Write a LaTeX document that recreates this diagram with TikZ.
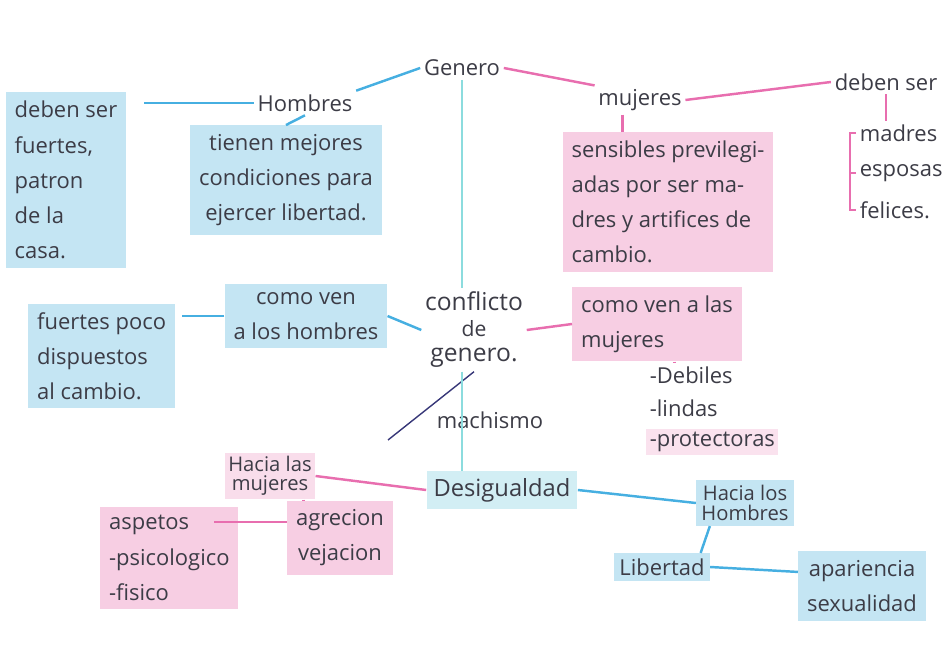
\documentclass[tikz,border=0pt]{standalone}
\usepackage{fontspec}
\setmainfont{Open Sans}
\usetikzlibrary{positioning, calc}
\definecolor{hlblue}{RGB}{196,229,243}
\definecolor{hlpink}{RGB}{247,206,227}
\definecolor{lnblue}{RGB}{70,175,225}
\definecolor{lnpink}{RGB}{232,110,175}
\definecolor{lncyan}{RGB}{140,220,222}
\definecolor{lndark}{RGB}{55,55,120}
\definecolor{inkgray}{RGB}{60,60,70}

\begin{document}
\begin{tikzpicture}[x=0.02cm, y=-0.02cm,
  font=\fontsize{12.5}{20}\selectfont, text=inkgray,
  idea/.style={inner sep=2pt, align=center},
  hlb/.style={idea, fill=hlblue, inner sep=5pt},
  hlp/.style={idea, fill=hlpink, inner sep=5pt},
  bline/.style={lnblue, line width=1.4pt},
  pline/.style={lnpink, line width=1.4pt},
  cline/.style={lncyan, line width=1.1pt},
  dline/.style={lndark, line width=0.8pt}]

  \useasboundingbox (0,0) rectangle (947,645);

  % --- centro ---
  \node[idea] (gen) at (462,68) {Genero};

  % --- hombres ---
  \node[idea] (hom) at (305,103) {Hombres};
  \node[hlb,align=left] (dsh) at (66,180) {deben ser\\fuertes,\\patron\\de la\\casa.};
  \node[hlb] (ten) at (286,180) {tienen mejores\\condiciones para\\ejercer libertad.};
  \draw[bline] (gen.west) -- (hom.north east);
  \draw[bline] (hom.west) -- ([xshift=10pt]hom.west -| dsh.east);
  \draw[bline] (hom.south) -- (ten.north);

  % --- mujeres ---
  \node[idea] (muj) at (640,100) {mujeres};
  \node[hlp,align=left] (sen) at (668,202) {sensibles previlegi-\\adas por ser ma-\\dres y artifices de\\cambio.};
  \node[idea] (dsm) at (886,82) {deben ser};
  \node[idea,anchor=west] (mad) at (856,133) {madres};
  \node[idea,anchor=west] (esp) at (856,173) {esposas};
  \node[idea,anchor=west] (fel) at (856,210) {felices.};
  \draw[pline] (gen.east) -- (muj.north west);
  \draw[pline] (muj.east) -- (dsm.west);
  \draw[pline] ([xshift=-10pt]muj.south) -- ([xshift=-10pt]muj.south |- sen.north);
  \draw[pline] (dsm.south) -- (dsm.south |- mad.north);
  \draw[pline] (mad.west) -- ++(-6,0) |- (fel.west);
  \draw[pline] (esp.west) -- ++(-6,0);

  % --- conflicto de genero ---
  \node[idea,font=\fontsize{14}{14.5}\selectfont] (con) at (474,330) {conflicto\\{\fontsize{12}{12}\selectfont de}\\genero.};
  \draw[cline] (gen.south) -- (gen.south |- con.north);
  \node[hlb] (cvh) at (306,316) {como ven\\a los hombres};
  \node[hlb,align=left,anchor=west] (fpo) at (28,356) {fuertes poco\\dispuestos\\al cambio.};
  \draw[bline] (cvh.east) -- (con.west);
  \draw[bline] (cvh.west) -- ([xshift=4pt]cvh.west -| fpo.east);
  \node[hlp,align=left,anchor=west] (cvm) at (572,324) {como ven a las\\mujeres};
  \node[idea,anchor=west] (deb) at (646,375) {-Debiles};
  \node[idea,anchor=west] (lin) at (646,408) {-lindas};
  \node[idea,anchor=west,fill=hlpink!60] (pro) at (646,442) {-protectoras};
  \draw[pline] (con.east) -- (cvm.west);
  \draw[pline] ([xshift=10pt]cvm.south) -- ([xshift=10pt]cvm.south |- deb.north);

  % --- machismo ---
  \node[idea] (mac) at (490,420) {machismo};
  \coordinate (mfin) at (388,440);
  \draw[dline] (con.south) -- (mfin);

  % --- desigualdad ---
  \node[idea,fill=hlblue!70!lncyan!60,inner sep=4pt,font=\fontsize{13.5}{20}\selectfont] (des) at (502,490) {Desigualdad};
  \draw[cline] (con.south -| gen.south) -- (gen.south |- des.north);

  % --- hacia las mujeres ---
  \node[idea,fill=hlpink!70,font=\fontsize{11.5}{11}\selectfont] (hlm) at (270,476) {Hacia las\\mujeres};
  \node[hlp] (agr) at (340,538) {agrecion\\vejacion};
  \node[hlp,align=left,anchor=west] (asp) at (100,558) {aspetos\\-psicologico\\-fisico};
  \draw[pline] (des.west) -- (hlm.east);
  \draw[pline] ([xshift=19pt]hlm.south) -- ([xshift=19pt]hlm.south |- agr.north);
  \draw[pline] ([yshift=9pt]agr.west) -- ([yshift=9pt,xshift=-14pt]agr.west -| asp.east);

  % --- hacia los hombres ---
  \node[hlb,font=\fontsize{11.5}{11}\selectfont,inner sep=3pt] (hlh) at (745,503) {Hacia los\\Hombres};
  \node[hlb,inner sep=3pt] (lib) at (662,567) {Libertad};
  \node[hlb] (apa) at (862,586) {apariencia\\sexualidad};
  \draw[bline] (des.east) -- (hlh.west);
  \draw[bline] ([xshift=-20pt]hlh.south) -- ([xshift=22pt]lib.north);
  \draw[bline] (lib.east) -- ([yshift=8pt]apa.west);
\end{tikzpicture}
\end{document}
